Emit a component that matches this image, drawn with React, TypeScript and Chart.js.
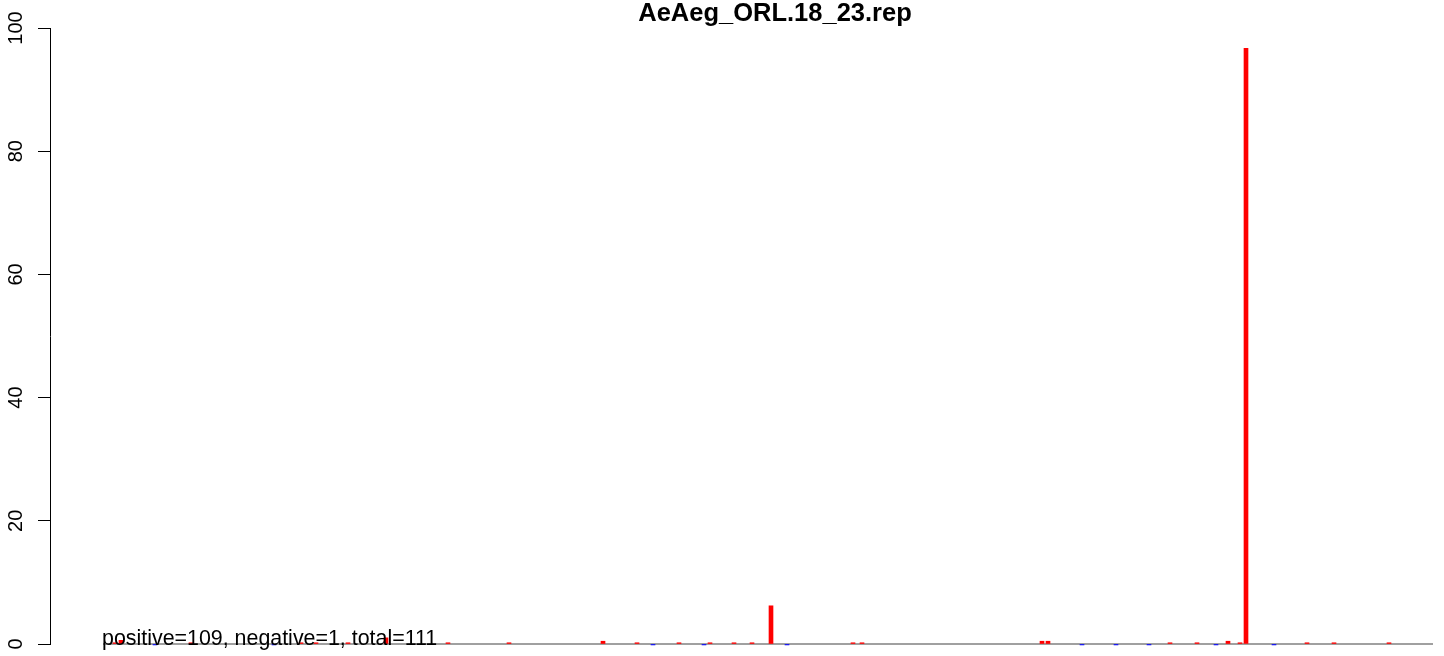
import React, { useEffect, useRef } from "react";
import { Chart, registerables } from "chart.js";

Chart.register(...registerables);

const TITLE = "AeAeg_ORL.18_23.rep";
const NOTE = "positive=109, negative=1, total=111";
const yTicks = [0, 20, 40, 60, 80, 100];

// positions (arbitrary sequence coordinate) and heights of red (positive) bars
const posPositions = [17, 23, 93, 203, 218, 250, 288, 350, 411, 505, 539, 581, 612, 636, 654, 673, 755, 764, 944, 950, 1072, 1099, 1130, 1142, 1148, 1209, 1236, 1291];
const posValues = [0.2, 0.6, 0.2, 0.2, 0.2, 0.2, 1.0, 0.2, 0.2, 0.45, 0.2, 0.2, 0.2, 0.2, 0.2, 6.2, 0.2, 0.2, 0.45, 0.45, 0.2, 0.2, 0.45, 0.2, 96.7, 0.2, 0.2, 0.2];

// positions and heights of blue (negative) bars
const negPositions = [53, 172, 551, 602, 685, 980, 1014, 1047, 1114, 1172];
const negValues = [-0.15, -0.15, -0.15, -0.15, -0.15, -0.15, -0.15, -0.15, -0.15, -0.15];

// extent of the grey zero line
const baselineStart = 3;
const baselineEnd = 1333;

const X_MIN = -50;
const X_MAX = 1344;

export default function App() {
  const ref = useRef<HTMLCanvasElement | null>(null);

  useEffect(() => {
    if (!ref.current) return;
    const overlay = {
      id: "overlay",
      afterDraw(chart: any) {
        const ctx = chart.ctx;
        const ys = chart.scales.y;
        ctx.save();
        ctx.fillStyle = "#000";
        ctx.textBaseline = "alphabetic";
        ctx.font = "20px 'Liberation Sans', Arial, sans-serif";
        ctx.textAlign = "center";
        for (const t of yTicks) {
          const py = ys.getPixelForValue(t);
          ctx.save();
          ctx.translate(22, py);
          ctx.rotate(-Math.PI / 2);
          ctx.fillText(String(t), 0, 0);
          ctx.restore();
        }
        ctx.font = "bold 25.5px 'Liberation Sans', Arial, sans-serif";
        ctx.textAlign = "center";
        ctx.fillText(TITLE, 775, 21);
        ctx.font = "21.4px 'Liberation Sans', Arial, sans-serif";
        ctx.textAlign = "left";
        ctx.fillText(NOTE, 102, 645);
        ctx.restore();
      },
    };

    const chart = new Chart(ref.current, {
      type: "bar",
      data: {
        datasets: [
          {
            type: "bar",
            label: "positive",
            data: posPositions.map((x, i) => ({ x, y: posValues[i] })),
            backgroundColor: "#ff0000",
            borderWidth: 0,
            barThickness: 4,
            clip: false,
            order: 1,
          } as any,
          {
            type: "bar",
            label: "negative",
            data: negPositions.map((x, i) => ({ x, y: negValues[i] })),
            backgroundColor: "#0000ff",
            borderWidth: 0,
            barThickness: 4,
            clip: false,
            order: 1,
          } as any,
          {
            type: "line",
            label: "zero",
            data: [
              { x: baselineStart, y: 0 },
              { x: baselineEnd, y: 0 },
            ],
            borderColor: "#a0a0a0",
            borderWidth: 2,
            pointRadius: 0,
            clip: false,
            order: 3,
          } as any,
        ],
      },
      options: {
        animation: false,
        responsive: false,
        maintainAspectRatio: false,
        layout: { padding: { top: 28, bottom: 12, left: 0, right: 0 } },
        plugins: {
          legend: { display: false },
          tooltip: { enabled: false },
          title: { display: false },
        },
        scales: {
          x: {
            type: "linear",
            min: X_MIN,
            max: X_MAX,
            offset: false,
            display: false,
            stacked: false,
            grid: { offset: false },
          },
          y: {
            type: "linear",
            min: 0,
            max: 100,
            afterFit: (s: any) => {
              s.width = 50;
            },
            ticks: { display: false, stepSize: 20 },
            grid: {
              display: true,
              drawOnChartArea: false,
              drawTicks: true,
              tickLength: 12,
              color: "#000",
              lineWidth: 1,
            },
            border: { display: true, color: "#000", width: 1 },
          },
        },
      } as any,
      plugins: [overlay],
    });
    return () => chart.destroy();
  }, []);

  return (
    <div style={{ position: "fixed", left: 0, top: 0, width: 1444, height: 656, background: "#fff" }}>
      <canvas ref={ref} width={1444} height={656} style={{ width: 1444, height: 656 }} />
    </div>
  );
}
